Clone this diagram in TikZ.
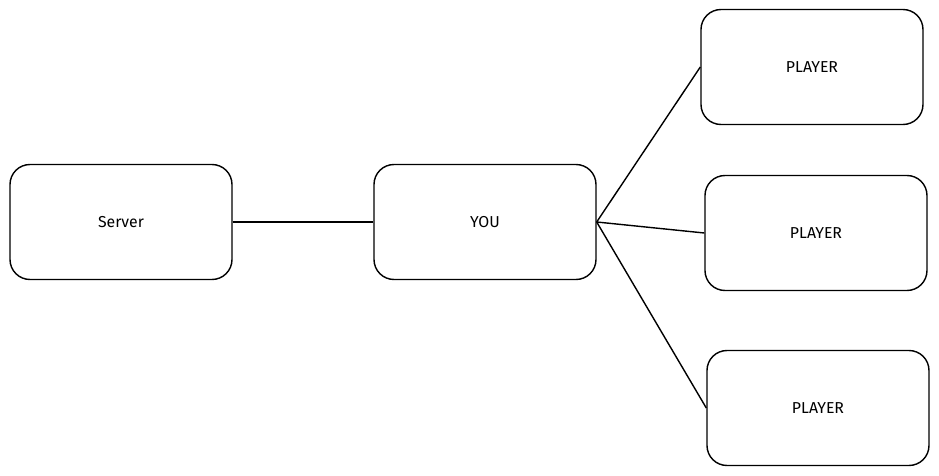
\documentclass[tikz,border=0pt]{standalone}
\usepackage{fontspec}
\setmainfont{Fira Sans}
\usetikzlibrary{positioning}

\begin{document}
\begin{tikzpicture}[
    box/.style={rectangle, rounded corners=0.4cm, draw=black, thick, minimum width=4.44cm, minimum height=2.3cm, align=center, font=\small},
    link/.style={thick, black}
    ]
    \useasboundingbox (0,0) rectangle (18.78,9.52);

    % Nodes
    \node[box] (server) at (2.42,5.08) {Server};
    \node[box] (you) at (9.7,5.08) {YOU};
    \node[box] (p1) at (16.24,8.18) {PLAYER};
    \node[box] (p2) at (16.32,4.86) {PLAYER};
    \node[box] (p3) at (16.36,1.36) {PLAYER};

    % Links
    \draw[link] (server) -- (you);
    \draw[link] (you.east) -- (p1.west);
    \draw[link] (you.east) -- (p2.west);
    \draw[link] (you.east) -- (p3.west);

\end{tikzpicture}
\end{document}
